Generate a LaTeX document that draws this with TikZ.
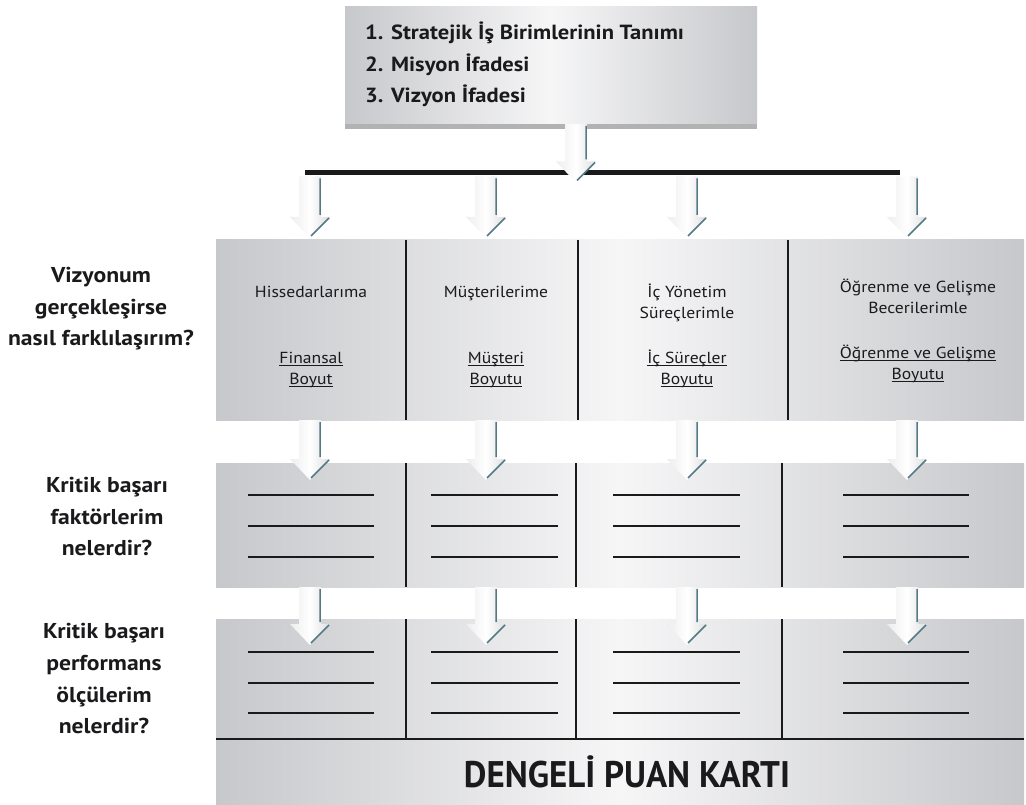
\documentclass[tikz,border=0pt]{standalone}
\usepackage{fontspec}
\setmainfont{PT Sans}[FakeStretch=1.1]
\newfontfamily\cardfont{PT Sans}
\usetikzlibrary{calc}

\definecolor{panelEdge}{RGB}{199,200,203}
\definecolor{panelMid}{RGB}{246,246,247}
\definecolor{arrowEdge}{RGB}{84,122,136}
\definecolor{ink}{RGB}{26,26,28}

% underlined label text
\newcommand\lineunder[1]{\setbox0\hbox{#1}\rlap{\rule[-2.6pt]{\wd0}{1.1pt}}\box0}

% block arrow from #1 straight down to the tip #2
\newcommand\blockarrow[2]{%
  \path[arrowbody] let \p1=(#1), \p2=(#2) in
    (\x2-11pt,\y1) -- (\x2+11pt,\y1) -- (\x2+11pt,\y2+21pt) -- (\x2+20pt,\y2+21pt)
    -- (\x2,\y2) -- (\x2-20pt,\y2+21pt) -- (\x2-11pt,\y2+21pt) -- cycle;
  \draw[arrowedge] let \p1=(#1), \p2=(#2) in
    (\x2+10pt,\y1-2pt) -- (\x2+10pt,\y2+23pt)
    (\x2+19pt,\y2+20pt) -- (\x2+1pt,\y2+2pt);
}

\tikzset{
  panel/.style={shade, left color=panelEdge, right color=panelEdge, middle color=panelMid,
    draw=none, inner sep=0pt, outer sep=0pt},
  rule/.style={ink, line width=2.6pt},
  divider/.style={ink, line width=2.8pt},
  heading/.style={font=\bfseries\fontsize{20.5}{20.5}\selectfont, text=ink, anchor=base west, inner sep=0pt},
  question/.style={font=\bfseries\fontsize{21.5}{21.5}\selectfont, text=ink, anchor=base, inner sep=0pt},
  cell/.style={font=\fontsize{16}{16}\selectfont, text=ink, anchor=base, inner sep=0pt},
  arrowbody/.style={shade, left color=gray!14, right color=gray!26, middle color=white},
  arrowedge/.style={arrowEdge, line width=1.5pt},
}

\begin{document}
\begin{tikzpicture}[x=1pt,y=-1pt]
\useasboundingbox (0,0) rectangle (1026,805);

% ---- top box with its bottom shade ----
\fill[gray!60] (345,122) rectangle (757,129);
\node[panel, minimum width=412pt, minimum height=117pt] (top) at (551,65.5) {};
\node[heading] (t1) at (365,40) {1. Stratejik İş Birimlerinin Tanımı};
\node[heading] (t2) at (365,72) {2. Misyon İfadesi};
\node[heading] (t3) at (365,103) {3. Vizyon İfadesi};

% ---- the three rows ----
\node[panel, minimum width=808pt, minimum height=180pt] (r1) at (620,330) {};
\node[panel, minimum width=808pt, minimum height=124pt] (r2) at (620,525) {};
\node[panel, minimum width=808pt, minimum height=186pt] (r3) at (620,712) {};

% column dividers
\foreach \x in {406,578,788} \draw[divider] (\x,240) -- (\x,420);
\foreach \x in {406,576,782} \draw[divider] (\x,463) -- (\x,587);
\foreach \x in {406,576,782} \draw[divider] (\x,619) -- (\x,739);
\draw[rule] (216,739) -- (1024,739);

% blank entry lines
\foreach \a/\b in {248/374,431/558,613/740,843/969}{
  \foreach \y in {495,526,557,652,683,713} \draw[rule] (\a,\y) -- (\b,\y);
}

% column arrow positions
\coordinate (c0) at (576,0);
\coordinate (c1) at (310,0);
\coordinate (c2) at (486,0);
\coordinate (c3) at (687,0);
\coordinate (c4) at (907,0);

% distribution bar
\coordinate (barL) at (305,172.5);
\coordinate (barR) at (900,172.5);
\draw[ink, line width=5pt] (barL) -- (barR);

\blockarrow{top.south -| c0}{$(barL -| c0)+(0,10)$}
\foreach \c in {c1,c2,c3,c4}{
  \blockarrow{$(barL -| \c)+(0,4)$}{$(r1.north -| \c)+(0,-2)$}
  \blockarrow{r1.south -| \c}{$(r2.north -| \c)+(0,17)$}
  \blockarrow{r2.south -| \c}{$(r3.north -| \c)+(0,26)$}
}

% ---- perspective labels ----
\node[cell] (h1) at (311,298) {Hissedarlarıma};
\node[cell] (h2) at (311,363) {\lineunder{Finansal}};
\node[cell] (h3) at (311,384) {\lineunder{Boyut}};

\node[cell] (m1) at (496,298) {Müşterilerime};
\node[cell] (m2) at (496,363) {\lineunder{Müşteri}};
\node[cell] (m3) at (496,384) {\lineunder{Boyutu}};

\node[cell] (i1) at (687,298) {İç Yönetim};
\node[cell] (i2) at (687,319) {Süreçlerimle};
\node[cell] (i3) at (687,363) {\lineunder{İç Süreçler}};
\node[cell] (i4) at (687,384) {\lineunder{Boyutu}};

\node[cell] (o1) at (918,293) {Öğrenme ve Gelişme};
\node[cell] (o2) at (918,313) {Becerilerimle};
\node[cell] (o3) at (918,358) {\lineunder{Öğrenme ve Gelişme}};
\node[cell] (o4) at (918,379) {\lineunder{Boyutu}};

% ---- questions on the left ----
\node[question] (q1a) at (101,283) {Vizyonum};
\node[question] (q1b) at (101,314) {gerçekleşirse};
\node[question] (q1c) at (101,345) {nasıl farklılaşırım?};

\node[question] (q2a) at (107,492) {Kritik başarı};
\node[question] (q2b) at (107,524) {faktörlerim};
\node[question] (q2c) at (107,555) {nelerdir?};

\node[question] (q3a) at (104,638) {Kritik başarı};
\node[question] (q3b) at (104,670) {performans};
\node[question] (q3c) at (104,702) {ölçülerim};
\node[question] (q3d) at (104,733) {nelerdir?};

% ---- footer ----
\node[font=\cardfont\bfseries\fontsize{37}{37}\selectfont, text=ink, anchor=base, inner sep=0pt]
  (card) at (627,787) {\scalebox{0.945}[1]{DENGELİ PUAN KARTI}};
\end{tikzpicture}
\end{document}
